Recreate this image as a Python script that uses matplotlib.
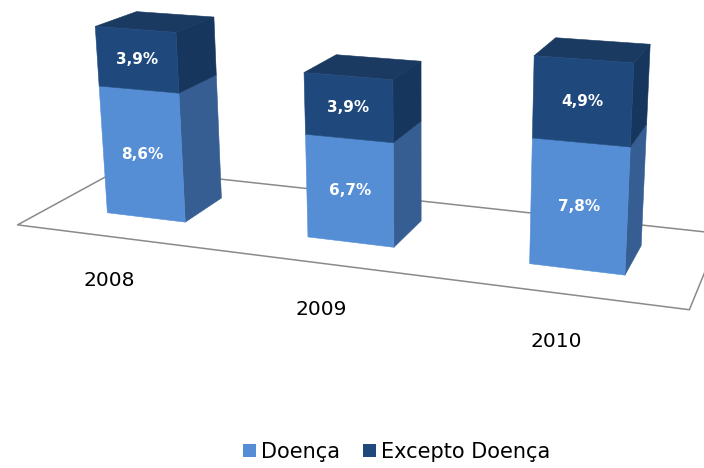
import numpy as np
import matplotlib.pyplot as plt
from matplotlib.patches import Patch
from matplotlib.text import Text
from mpl_toolkits.mplot3d.art3d import Poly3DCollection

# data
years = ['2008', '2009', '2010']
doenca = [8.6, 6.7, 7.8]
excepto = [3.9, 3.9, 4.9]
labels = ['Doença', 'Excepto Doença']

# colours (front, side, top)
light, light_side = '#558ED5', '#365E92'
dark, dark_side, dark_top = '#1F497D', '#17365D', '#1B3A62'

fig = plt.figure(figsize=(7.04, 4.68), dpi=100)
ax = fig.add_axes([0, 0, 1, 1], projection='3d')

# camera
z_unit = 0.0697          # height of 1 % in category units
floor_depth = 0.9
xlim, ylim, zlim = (-0.5, 3.05), (0, floor_depth), (0, 13.17)
aspect = np.array([xlim[1] - xlim[0], ylim[1] - ylim[0], (zlim[1] - zlim[0]) * z_unit])
cam_dist = 6.101         # camera -> box centre, category units
px_per_unit = 232.7      # screen scale at the box centre
cx, cy = 424, 333        # where the box centre lands (pixels from bottom-left)

ax.set_xlim(xlim)
ax.set_ylim(ylim)
ax.set_zlim(zlim)
ax.set_box_aspect(aspect.copy())   # set_box_aspect scales its argument in place
k = np.linalg.norm(ax.get_box_aspect()) / np.linalg.norm(aspect)
ax.set_proj_type('persp', focal_length=cam_dist * k / 10)
ax.view_init(elev=16, azim=-71.2)
S = 1.85 * px_per_unit / k
ax.set_position([(cx - 0.5135 * S) / 704, (cy - 0.5135 * S) / 468, S / 704, S / 468])
ax.set_xticks([])
ax.set_yticks([])
ax.set_zticks([])
ax.set_axis_off()
ax.computed_zorder = False
for t in ax.findobj(Text):
    if not t.get_text():
        t.set_visible(False)

# floor
n = len(years)
floor = Poly3DCollection([[(-0.5, 0, 0), (n - 0.5, 0, 0), (n - 0.5, floor_depth, 0), (-0.5, floor_depth, 0)]],
                         facecolor='white', edgecolor='#8a8a8a', linewidth=1.1, zorder=1)
ax.add_collection3d(floor)

# bars: faces ordered bottom, top, front, back, left, right
width, depth = 0.4, 0.4 * floor_depth
y0 = (floor_depth - depth) / 2
x = np.arange(n)
xs = np.concatenate([x, x]) - width / 2
ys = np.full(2 * n, y0)
zs = np.concatenate([np.zeros(n), doenca])
dz = np.concatenate([doenca, excepto])
face_light = ['none', 'none', light, 'none', 'none', light_side]
face_dark = ['none', dark_top, dark, 'none', 'none', dark_side]
colors = face_light * n + face_dark * n
ax.bar3d(xs, ys, zs, width, depth, dz, color=colors, edgecolor=colors,
         linewidth=0.4, shade=False, zorder=2)

# value labels
for i in range(n):
    ax.text(x[i], y0, doenca[i] / 2, f'{doenca[i]:.1f}%'.replace('.', ','),
            color='white', fontsize=11, fontweight='bold', ha='center', va='center', zorder=10)
    ax.text(x[i], y0, doenca[i] + excepto[i] / 2, f'{excepto[i]:.1f}%'.replace('.', ','),
            color='white', fontsize=11, fontweight='bold', ha='center', va='center', zorder=10)
    ax.text(x[i], -0.07, -2.55, years[i], color='black', fontsize=14.5,
            ha='center', va='center', zorder=10)

handles = [Patch(facecolor=light, edgecolor='none'), Patch(facecolor=dark, edgecolor='none')]
fig.legend(handles, labels, loc='center', bbox_to_anchor=(397 / 704, 1 - 452 / 468),
           ncol=2, frameon=False, fontsize=15, handlelength=0.62, handleheight=0.6,
           handletextpad=0.25, columnspacing=1.1, borderpad=0)

fig.savefig('out.png', dpi=100)
